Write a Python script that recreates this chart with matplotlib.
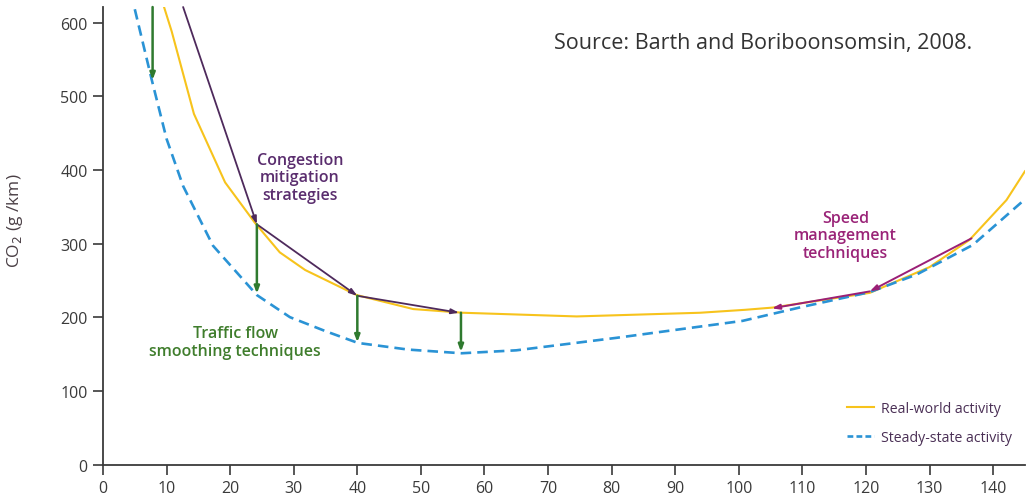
import matplotlib
matplotlib.use("Agg")
import matplotlib.pyplot as plt
from matplotlib.lines import Line2D

# ---- data ----
steady_x = [5.0, 7.7, 10.0, 12.6, 17.3, 24.2, 29.4, 35.0, 40.1, 48.0, 56.4, 65.0, 80.8, 100.6, 110.0, 120.6, 128.0, 136.8, 145.0]
steady_y = [618, 521, 442, 378, 297, 230, 200, 181, 165, 156, 151, 155, 172, 195, 214, 234, 258, 298, 360]

real_x = [9.6, 10.8, 14.3, 19.2, 23.9, 27.8, 31.8, 39.9, 48.8, 56.6, 74.5, 93.9, 101.0, 105.3, 120.6, 130.0, 136.3, 142.1, 145.0]
real_y = [621, 588, 476, 383, 328, 288, 264, 230, 211, 206, 201, 206, 210, 213, 233, 268, 305, 359, 398]

congestion_x = [12.6, 24.2, 40.0, 56.0]
congestion_y = [621, 326, 229, 206]

speed_x = [136.6, 120.6, 105.2]
speed_y = [307, 235, 212]

flow_x = [7.8, 24.2, 40.0, 56.3]
flow_from = [621, 326, 229, 206]
flow_to = [522, 232, 166, 153]

x_ticks = list(range(0, 141, 10))
y_ticks = list(range(0, 601, 100))

FONT = ["Open Sans", "DejaVu Sans"]
plt.rcParams["font.family"] = FONT

fig = plt.figure(figsize=(10.28, 5.02), dpi=100)
ax = fig.add_axes([0.1002, 0.0727, 0.8968, 0.9113])
ax.set_xlim(0, 145)
ax.set_ylim(0, 621)

axis_col = "#3a3a3a"
for s in ["top", "right"]:
    ax.spines[s].set_visible(False)
for s in ["left", "bottom"]:
    ax.spines[s].set_color(axis_col)
    ax.spines[s].set_linewidth(1.3)
ax.set_xticks(x_ticks)
ax.set_yticks(y_ticks)
ax.tick_params(axis="both", direction="out", length=7, width=1.2, color=axis_col,
               labelsize=11.5, labelcolor="#3a3a3a", pad=4)

# curves
ax.plot(steady_x, steady_y, color="#2a93d5", lw=1.9, dashes=(4, 2.3),
        solid_capstyle="butt", dash_capstyle="butt", zorder=3)
ax.plot(real_x, real_y, color="#f7c31c", lw=1.5, zorder=2)

# congestion mitigation path
purple = "#4e2a5c"
for i in range(len(congestion_x) - 1):
    ax.annotate("", xy=(congestion_x[i + 1], congestion_y[i + 1]),
                xytext=(congestion_x[i], congestion_y[i]),
                arrowprops=dict(arrowstyle="-|>,head_length=0.45,head_width=0.15",
                                color=purple, lw=1.3, shrinkA=0, shrinkB=0),
                annotation_clip=False, zorder=4)

# speed management path
magenta = "#9b1f76"
for i in range(len(speed_x) - 1):
    ax.annotate("", xy=(speed_x[i + 1], speed_y[i + 1]),
                xytext=(speed_x[i], speed_y[i]),
                arrowprops=dict(arrowstyle="-|>,head_length=0.45,head_width=0.15",
                                color=magenta, lw=1.4, shrinkA=0, shrinkB=0),
                annotation_clip=False, zorder=4)

# traffic flow smoothing arrows
green = "#2f7a2f"
for xv, y0, y1 in zip(flow_x, flow_from, flow_to):
    ax.annotate("", xy=(xv, y1), xytext=(xv, y0),
                arrowprops=dict(arrowstyle="-|>,head_length=0.4,head_width=0.15",
                                color=green, lw=1.8, shrinkA=0, shrinkB=0),
                annotation_clip=False, zorder=5)

# texts
ax.text(103.8, 573, "Source: Barth and Boriboonsomsin, 2008.", ha="center", va="center",
        fontsize=15.5, color="#333333")
ax.text(31.0, 390, "Congestion\nmitigation\nstrategies", ha="center", va="center",
        fontsize=11.5, color="#5a2d6e", linespacing=1.12, fontweight="semibold")
ax.text(20.8, 166, "Traffic flow\nsmoothing techniques", ha="center", va="center",
        fontsize=11.5, color="#3f7d2c", linespacing=1.12, fontweight="semibold")
ax.text(116.8, 311, "Speed\nmanagement\ntechniques", ha="center", va="center",
        fontsize=11.5, color="#9a2478", linespacing=1.12, fontweight="semibold")

ax.set_ylabel("CO$_2$ (g /km)", fontsize=12.5, color="#4a3f45")
ax.yaxis.set_label_coords(-0.085, 0.535)

handles = [Line2D([], [], color="#f7c31c", lw=1.5),
           Line2D([], [], color="#2a93d5", lw=1.9, dashes=(2.2, 1.2))]
leg = ax.legend(handles, ["Real-world activity", "Steady-state activity"],
                loc="lower right", bbox_to_anchor=(1.0, 0.015), frameon=False,
                fontsize=10.2, handlelength=1.9, handletextpad=0.5, labelspacing=0.95)
for t in leg.get_texts():
    t.set_color("#4a2f55")

fig.savefig("out.png", dpi=100)
